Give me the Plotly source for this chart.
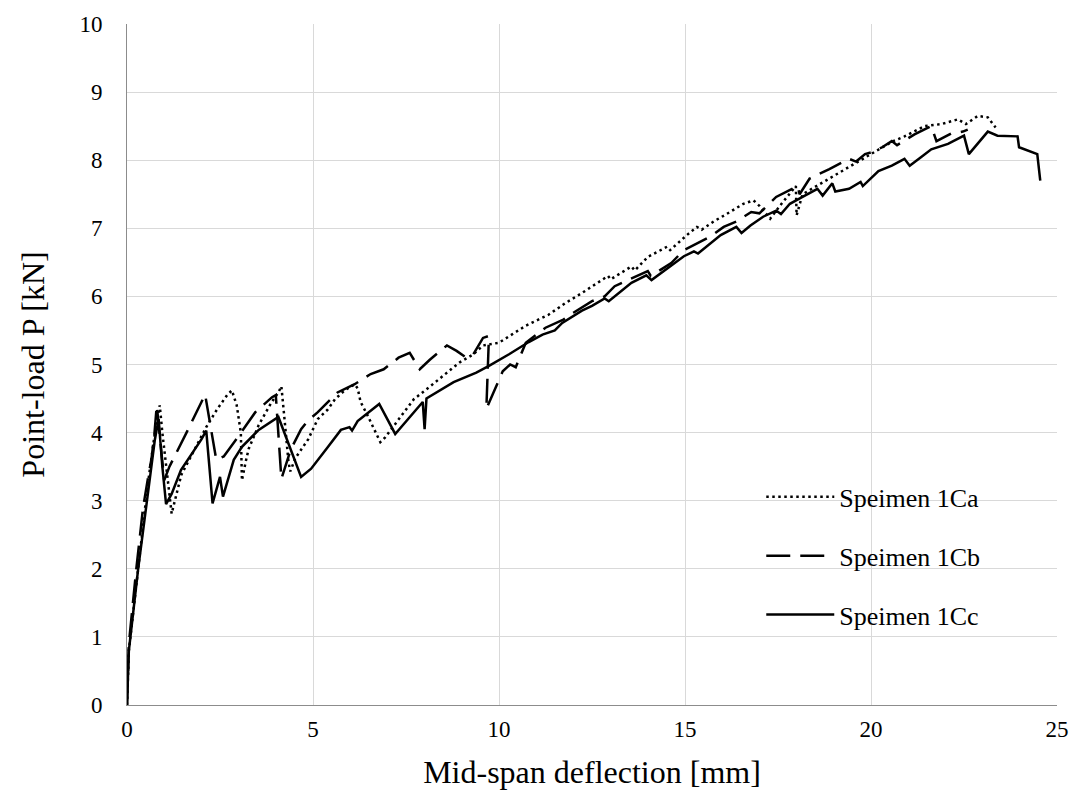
import plotly.graph_objects as go

# Speimen 1Ca (dotted)
a_x = [0, 0.05, 0.3, 0.55, 0.75, 0.88, 0.95, 1.05, 1.2, 1.46, 1.73, 2.0, 2.13, 2.42, 2.69, 2.82, 2.95, 3.06, 3.09,
       3.19, 3.27, 3.54, 3.88, 4.07, 4.15, 4.26, 4.34, 4.39, 4.52, 4.87, 5.13, 5.4, 5.59, 5.85, 6.12, 6.2, 6.28, 6.46,
       6.65, 6.81, 6.94, 7.18, 7.45, 7.71, 8.06, 8.51, 8.94, 9.31, 9.57, 10.0, 10.37, 10.72, 11.33, 11.78, 12.23,
       12.93, 13.0, 13.56, 13.65, 14.0, 14.52, 14.6, 15.05, 15.32, 15.45, 15.77, 16.12, 16.57, 16.84, 17.0, 17.29,
       17.55, 17.98, 18.0, 18.16, 18.78, 19.5, 19.84, 20.2, 20.56, 20.9, 21.44, 21.89, 22.34, 22.55, 22.87, 23.14,
       23.35]
a_y = [0, 0.8, 2.0, 3.2, 4.0, 4.4, 4.0, 3.5, 2.81, 3.38, 3.67, 3.96, 4.08, 4.34, 4.55, 4.62, 4.4, 4.0, 3.3,
       3.57, 3.76, 4.11, 4.44, 4.59, 4.68, 4.05, 3.57, 3.43, 3.62, 3.9, 4.2, 4.34, 4.49, 4.62, 4.71, 4.65, 4.45, 4.26,
       4.05, 3.86, 3.93, 4.11, 4.3, 4.49, 4.64, 4.84, 5.03, 5.15, 5.28, 5.32, 5.45, 5.57, 5.73, 5.9, 6.05,
       6.3, 6.25, 6.44, 6.38, 6.58, 6.73, 6.68, 6.9, 7.02, 6.98, 7.1, 7.21, 7.36, 7.41, 7.33, 7.14,
       7.33, 7.62, 7.19, 7.5, 7.7, 7.94, 8.04, 8.16, 8.27, 8.35, 8.5, 8.53, 8.6, 8.53, 8.65, 8.63,
       8.48]

# Speimen 1Cb (dashed)
b_x = [0, 0.05, 0.25, 0.43, 0.56, 0.66, 0.74, 0.8, 1.0, 1.14, 1.6, 2.1, 2.4, 2.6, 3.0, 3.45, 3.9, 4.0, 4.15, 4.4,
       4.68, 4.87, 5.13, 5.48, 5.66, 6.12, 6.55, 6.9, 7.3, 7.6, 7.87, 8.14, 8.6, 8.86, 9.12, 9.31, 9.57, 9.73, 9.66,
       10.1, 10.3, 10.45, 10.72, 11.25, 11.73, 12.0, 12.5, 12.84, 13.11, 13.46, 14.0, 14.08, 14.63, 14.97, 15.32,
       15.69, 16.04, 16.38, 16.78, 17.0, 17.45, 17.9, 18.03, 18.08, 18.35, 18.88, 19.41, 19.6, 19.84, 20.03, 20.3,
       20.56, 20.7, 21.17, 21.62, 21.76, 22.15, 22.47, 22.6]
b_y = [0, 0.9, 2.0, 2.89, 3.32, 3.62, 4.0, 4.4, 3.3, 3.5, 4.0, 4.56, 3.6, 3.65, 3.95, 4.3, 4.52, 4.55, 3.32, 3.75,
       4.05, 4.18, 4.3, 4.5, 4.59, 4.71, 4.86, 4.93, 5.1, 5.17, 4.93, 5.07, 5.28, 5.2, 5.1, 5.15, 5.39, 5.42, 4.35,
       4.9, 5.0, 4.96, 5.32, 5.54, 5.66, 5.76, 5.93, 6.0, 6.15, 6.24, 6.37, 6.3, 6.49, 6.68, 6.78,
       6.88, 7.02, 7.1, 7.24, 7.22, 7.46, 7.58, 7.62, 7.5, 7.73, 7.87, 8.02, 7.98, 8.09, 8.12, 8.19,
       8.28, 8.22, 8.38, 8.5, 8.28, 8.39, 8.42, 8.45]

# Speimen 1Cc (solid)
c_x = [0, 0.05, 0.3, 0.55, 0.75, 0.85, 0.95, 1.05, 1.2, 1.45, 1.7, 2.0, 2.13, 2.3, 2.5, 2.58, 2.87, 3.09, 3.54, 4.07,
       4.68, 4.95, 5.4, 5.75, 5.98, 6.05, 6.2, 6.78, 7.21, 7.95, 8.0, 8.05, 8.78, 9.39, 9.73, 10.27, 10.8, 11.17,
       11.5, 11.7, 12.23, 12.5, 12.84, 12.95, 13.56, 13.96, 14.1, 14.63, 14.97, 15.24, 15.35, 15.96, 16.38, 16.52,
       16.76, 17.1, 17.45, 17.58, 17.82, 18.16, 18.56, 18.7, 18.96, 19.04, 19.41, 19.72, 19.78, 20.2, 20.56, 20.9,
       21.04, 21.36, 21.62, 22.07, 22.5, 22.63, 23.14, 23.4, 23.94, 23.98, 24.47, 24.55]
c_y = [0, 0.8, 2.0, 3.1, 3.9, 4.2, 3.5, 2.95, 3.1, 3.45, 3.65, 3.9, 4.03, 2.96, 3.35, 3.06, 3.6, 3.79, 4.04, 4.23,
       3.35, 3.47, 3.79, 4.04, 4.08, 4.03, 4.17, 4.42, 3.98, 4.45, 4.05, 4.5, 4.74, 4.88, 4.98, 5.15, 5.33, 5.44,
       5.5, 5.61, 5.79, 5.86, 5.97, 5.93, 6.2, 6.31, 6.24, 6.46, 6.59, 6.66, 6.63, 6.9, 7.02, 6.93,
       7.04, 7.17, 7.26, 7.21, 7.36, 7.46, 7.58, 7.48, 7.66, 7.54, 7.58, 7.68, 7.62, 7.84, 7.92, 8.02,
       7.92, 8.05, 8.16, 8.24, 8.36, 8.09, 8.42, 8.36, 8.35, 8.19, 8.09, 7.7]

x_ticks = [0, 5, 10, 15, 20, 25]
y_ticks = list(range(0, 11))

FONT = "Liberation Serif, Times New Roman, serif"

fig = go.Figure()
fig.add_trace(go.Scatter(x=a_x, y=a_y, mode="lines", name="Speimen 1Ca", legendgroup="a",
                         line=dict(color="black", width=2.5, dash="2.5px,3.5px")))
fig.add_trace(go.Scatter(x=b_x, y=b_y, mode="lines", name="Speimen 1Cb", legendgroup="b",
                         line=dict(color="black", width=2.5, dash="24px,10px")))
fig.add_trace(go.Scatter(x=c_x, y=c_y, mode="lines", name="Speimen 1Cc", legendgroup="c",
                         line=dict(color="black", width=2.5)))

fig.update_layout(
    width=1081, height=803,
    margin=dict(l=127, r=14, t=19, b=98),
    paper_bgcolor="white", plot_bgcolor="white",
    font=dict(family=FONT, size=23, color="black"),
    showlegend=True,
    legend=dict(x=0.682, y=0.34, xanchor="left", yanchor="top", bgcolor="rgba(255,255,255,0)",
                font=dict(size=26, family=FONT), tracegroupgap=22, itemwidth=68),
    xaxis=dict(range=[0, 25], tickvals=x_ticks, showgrid=True, gridcolor="#d9d9d9", gridwidth=1,
               showline=True, linecolor="#8c8c8c", linewidth=1, zeroline=False, ticks="",
               ticklabelstandoff=3,
               tickfont=dict(size=23, family=FONT),
               title=dict(text="Mid-span deflection [mm]", font=dict(size=32, family=FONT), standoff=20)),
    yaxis=dict(range=[0, 10], tickvals=y_ticks, showgrid=True, gridcolor="#d9d9d9", gridwidth=1,
               showline=True, linecolor="#8c8c8c", linewidth=1, zeroline=False, ticks="",
               ticklabelstandoff=19,
               tickfont=dict(size=23, family=FONT),
               title=dict(text="Point-load P [kN]", font=dict(size=32, family=FONT), standoff=25)),
)

fig.write_html("out.html")
